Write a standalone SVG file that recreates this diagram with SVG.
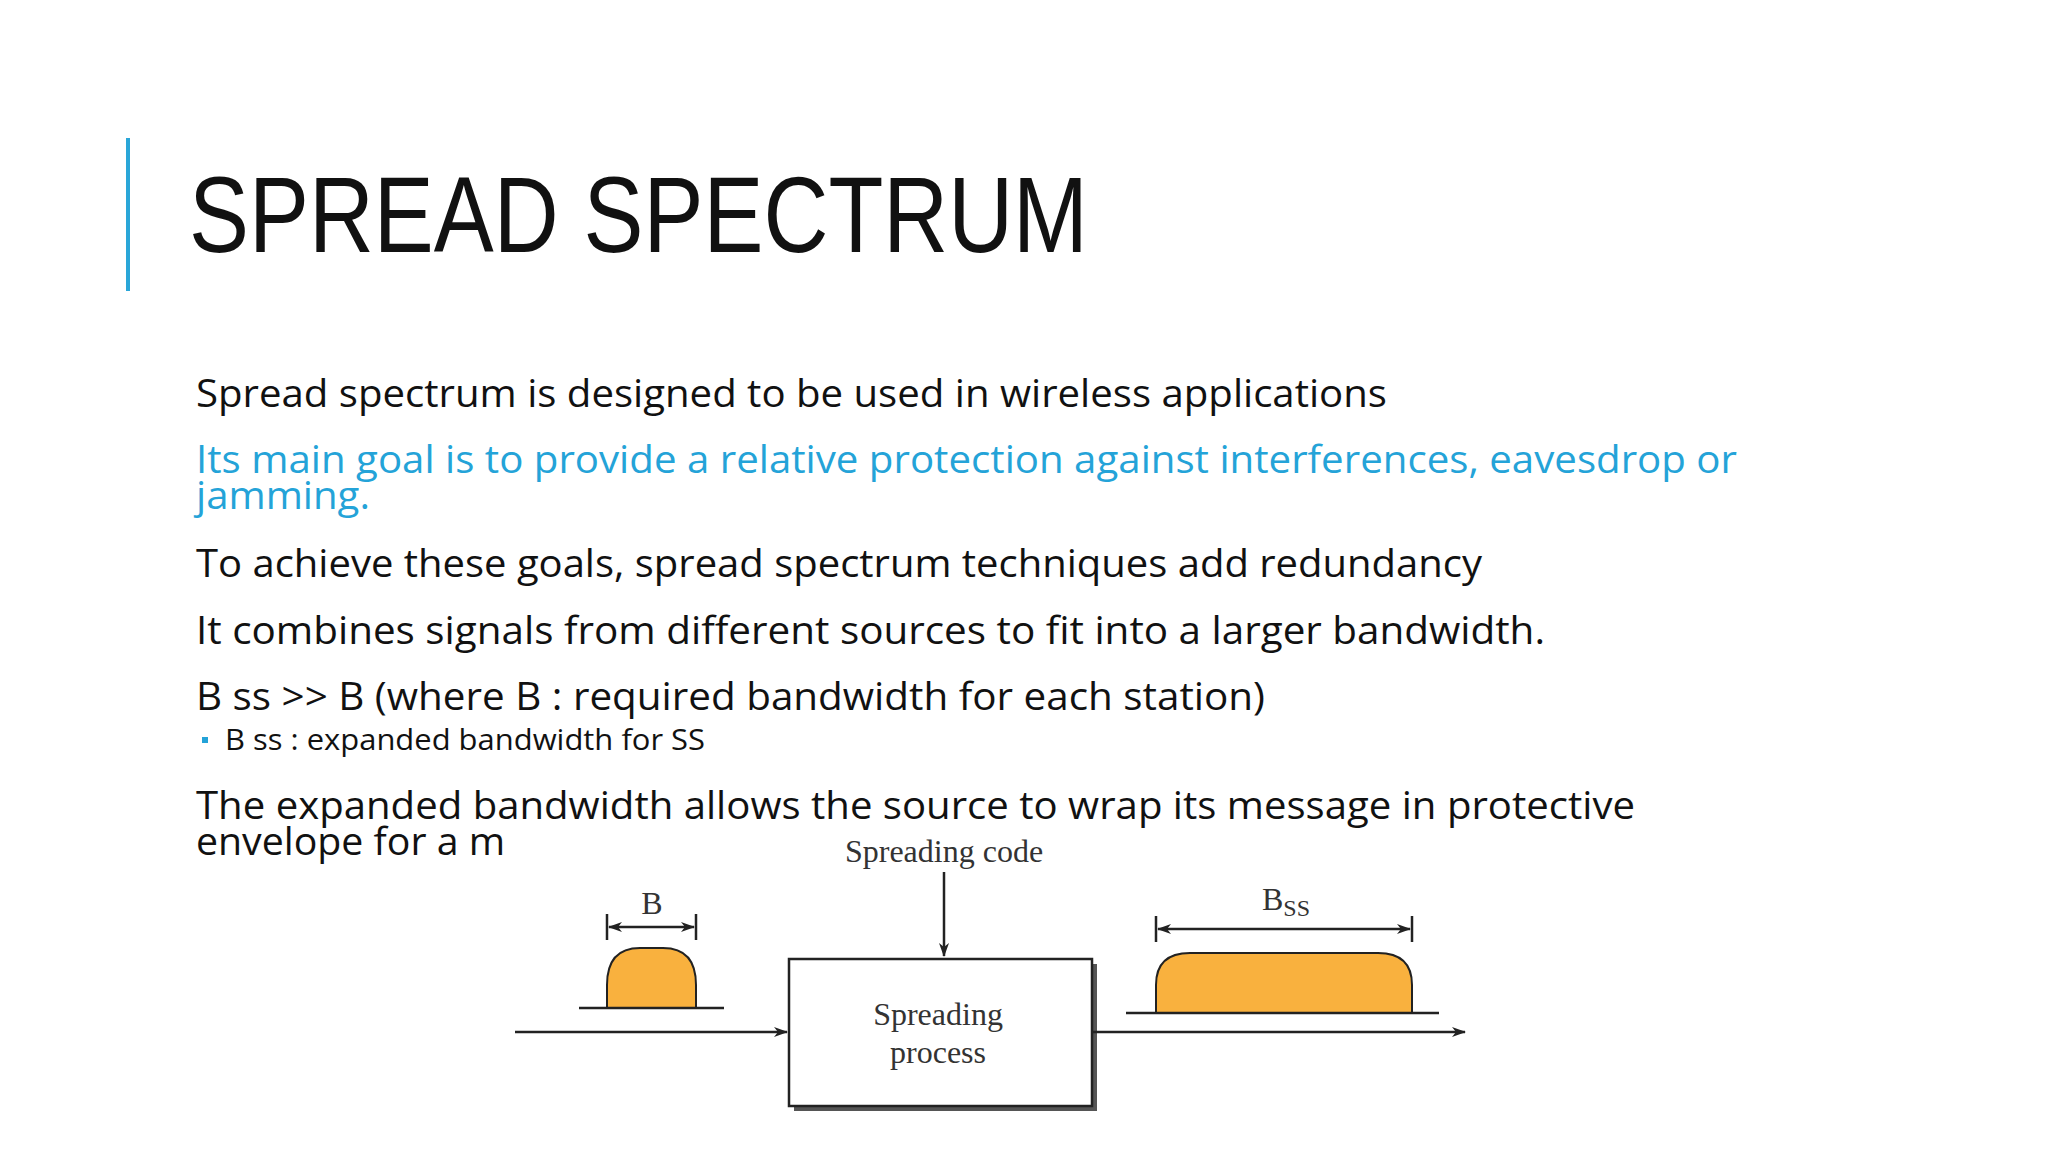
<svg xmlns="http://www.w3.org/2000/svg" width="2048" height="1152" viewBox="0 0 2048 1152">
<defs>
<style>
.body{font-family:"Open Sans","DejaVu Sans",sans-serif;font-size:39px;fill:#111}
.ser{font-family:"Liberation Serif",serif;font-size:32px;fill:#333}
.ln{stroke:#222;stroke-width:2.5;fill:none}
.bump{fill:#F9B13E;stroke:#222;stroke-width:2}
</style>
<marker id="ah" markerWidth="14" markerHeight="10" refX="13" refY="5" orient="auto" markerUnits="userSpaceOnUse"><path d="M0,0 L14,5 L0,10 L4,5 Z" fill="#222"/></marker>
<marker id="as" markerWidth="14" markerHeight="10" refX="1" refY="5" orient="auto" markerUnits="userSpaceOnUse"><path d="M14,0 L0,5 L14,10 L10,5 Z" fill="#222"/></marker>
</defs>
<rect width="2048" height="1152" fill="#fff"/>
<rect x="126" y="138" width="4" height="153" fill="#2aa6d8"/>
<text x="189" y="252" font-family="Liberation Sans,sans-serif" font-size="108" fill="#111" textLength="899" lengthAdjust="spacingAndGlyphs">SPREAD SPECTRUM</text>
<text class="body" x="196" y="407" textLength="1191" lengthAdjust="spacingAndGlyphs">Spread spectrum is designed to be used in wireless applications</text>
<text class="body" x="196" y="473" style="fill:#24a3d8" textLength="1541" lengthAdjust="spacingAndGlyphs">Its main goal is to provide a relative protection against interferences, eavesdrop or</text>
<text class="body" x="196" y="509" style="fill:#24a3d8" textLength="174" lengthAdjust="spacingAndGlyphs">jamming.</text>
<text class="body" x="196" y="577" textLength="1286" lengthAdjust="spacingAndGlyphs">To achieve these goals, spread spectrum techniques add redundancy</text>
<text class="body" x="196" y="644" textLength="1349" lengthAdjust="spacingAndGlyphs">It combines signals from different sources to fit into a larger bandwidth.</text>
<text class="body" x="196" y="710" textLength="1069" lengthAdjust="spacingAndGlyphs">B ss &gt;&gt; B (where B : required bandwidth for each station)</text>
<rect x="202" y="737" width="6" height="6" fill="#24a3d8"/>
<text class="body" x="225" y="750" style="font-size:29px" textLength="480" lengthAdjust="spacingAndGlyphs">B ss : expanded bandwidth for SS</text>
<text class="body" x="196" y="819" textLength="1439" lengthAdjust="spacingAndGlyphs">The expanded bandwidth allows the source to wrap its message in protective</text>
<text class="body" x="196" y="855" textLength="309" lengthAdjust="spacingAndGlyphs">envelope for a m</text>
<g id="spreading-code"><text class="ser" x="944" y="862" text-anchor="middle">Spreading code</text></g>
<g id="input-signal">
<path class="bump" d="M607,1008 V985 Q607,948 640,948 H663 Q696,948 696,985 V1008"/>
<line class="ln" x1="579" y1="1008" x2="724" y2="1008"/>
<line class="ln" x1="607" y1="914" x2="607" y2="940"/><line class="ln" x1="696" y1="914" x2="696" y2="940"/>
<line class="ln" x1="609" y1="927" x2="694" y2="927" marker-start="url(#as)" marker-end="url(#ah)"/>
<text class="ser" x="652" y="914" text-anchor="middle">B</text>
</g>
<g id="process">
<rect x="794" y="964" width="303" height="147" fill="#555"/>
<rect x="789" y="959" width="303" height="147" fill="#fff" stroke="#222" stroke-width="2.5"/>
<text class="ser" x="938" y="1025" text-anchor="middle">Spreading</text>
<text class="ser" x="938" y="1063" text-anchor="middle">process</text>
</g>
<g id="output-signal">
<path class="bump" d="M1156,1013 V985 Q1156,953 1190,953 H1378 Q1412,953 1412,985 V1013"/>
<line class="ln" x1="1126" y1="1013" x2="1439" y2="1013"/>
<line class="ln" x1="1156" y1="916" x2="1156" y2="942"/><line class="ln" x1="1412" y1="916" x2="1412" y2="942"/>
<line class="ln" x1="1158" y1="929" x2="1410" y2="929" marker-start="url(#as)" marker-end="url(#ah)"/>
<text class="ser" x="1262" y="910">B<tspan font-size="24" dy="6">SS</tspan></text>
</g>
<g id="connectors">
<line class="ln" x1="944" y1="872" x2="944" y2="956" marker-end="url(#ah)"/>
<line class="ln" x1="515" y1="1032" x2="787" y2="1032" marker-end="url(#ah)"/>
<line class="ln" x1="1092" y1="1032" x2="1465" y2="1032" marker-end="url(#ah)"/>
</g>
</svg>
